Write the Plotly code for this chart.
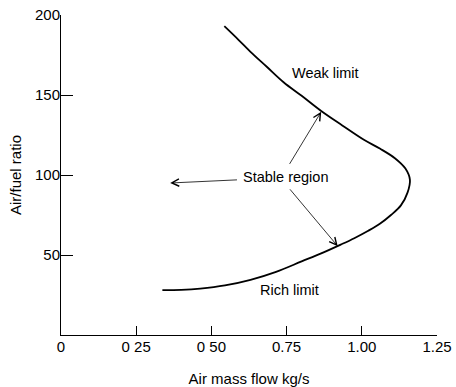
import plotly.graph_objects as go

# Stability loop: from top of weak limit, round the nose, back along rich limit
air_flow = [0.543, 0.59, 0.63, 0.685, 0.74, 0.80, 0.865, 0.935, 1.007, 1.06, 1.11, 1.145, 1.16,
            1.152, 1.13, 1.097, 1.06, 1.02, 0.975, 0.93, 0.865, 0.80, 0.715, 0.63, 0.545, 0.463, 0.40, 0.337]
af_ratio = [193, 184.5, 177, 167.5, 158, 149.5, 140, 131, 122, 116.5, 110.5, 104, 97,
            89, 81, 75, 69.5, 65, 60.5, 56.5, 51, 46, 39.5, 34.5, 31, 29, 28.2, 28]

x_tickvals = [0, 0.25, 0.5, 0.75, 1.0, 1.25]
x_ticktext = ["0", "0 25", "0 50", "0.75", "1.00", "1.25"]
y_tickvals = [50, 100, 150, 200]
y_ticktext = ["50", "100", "150", "200"]

FONT = "Liberation Sans, Arial, sans-serif"

fig = go.Figure()
fig.add_trace(go.Scatter(x=air_flow, y=af_ratio, mode="lines",
                         line=dict(color="black", width=1.8, shape="spline", smoothing=1.0),
                         hoverinfo="skip", showlegend=False))

# labels
fig.add_annotation(x=0.88, y=164, text="Weak limit", showarrow=False,
                   font=dict(family=FONT, size=14.5, color="black"))
fig.add_annotation(x=0.76, y=28, text="Rich limit", showarrow=False,
                   font=dict(family=FONT, size=14.5, color="black"))
fig.add_annotation(x=0.747, y=98.5, text="Stable region", showarrow=False,
                   font=dict(family=FONT, size=14.5, color="black"))

# arrows
arrows = [
    (0.363, 95, 0.59, 97),
    (0.865, 139.5, 0.757, 106),
    (0.92, 55.5, 0.757, 92),
]
for hx, hy, tx, ty in arrows:
    fig.add_annotation(x=hx, y=hy, ax=tx, ay=ty, xref="x", yref="y", axref="x", ayref="y",
                       text="", showarrow=True, arrowhead=5, arrowsize=1.8, arrowwidth=0.8,
                       arrowcolor="black")

fig.update_layout(
    width=456, height=387,
    margin=dict(l=61, r=19, t=15, b=52),
    paper_bgcolor="white", plot_bgcolor="white",
    font=dict(family=FONT, size=14, color="black"),
    xaxis=dict(range=[0, 1.25], tickvals=x_tickvals, ticktext=x_ticktext, automargin=False,
               showgrid=False, zeroline=False, showline=True, linecolor="black", linewidth=1,
               ticks="inside", ticklen=9, tickcolor="black", tickwidth=1,
               tickfont=dict(family=FONT, size=15), ticklabelstandoff=-2, ticklabeloverflow="allow",
               title=dict(text="Air mass flow kg/s", font=dict(family=FONT, size=15), standoff=19)),
    yaxis=dict(range=[0, 200], tickvals=y_tickvals, ticktext=y_ticktext, automargin=False,
               showgrid=False, zeroline=False, showline=True, linecolor="black", linewidth=1,
               ticks="inside", ticklen=12, tickcolor="black", tickwidth=1,
               tickfont=dict(family=FONT, size=15), ticklabelstandoff=-3, ticklabeloverflow="allow",
               title=dict(text="Air/fuel ratio", font=dict(family=FONT, size=15), standoff=9)),
)

# remove the page's default 8px body margin so the figure sits at the window's top-left
fig.write_html("out.html", config={"displayModeBar": False},
               post_script="document.body.style.margin='0';")
